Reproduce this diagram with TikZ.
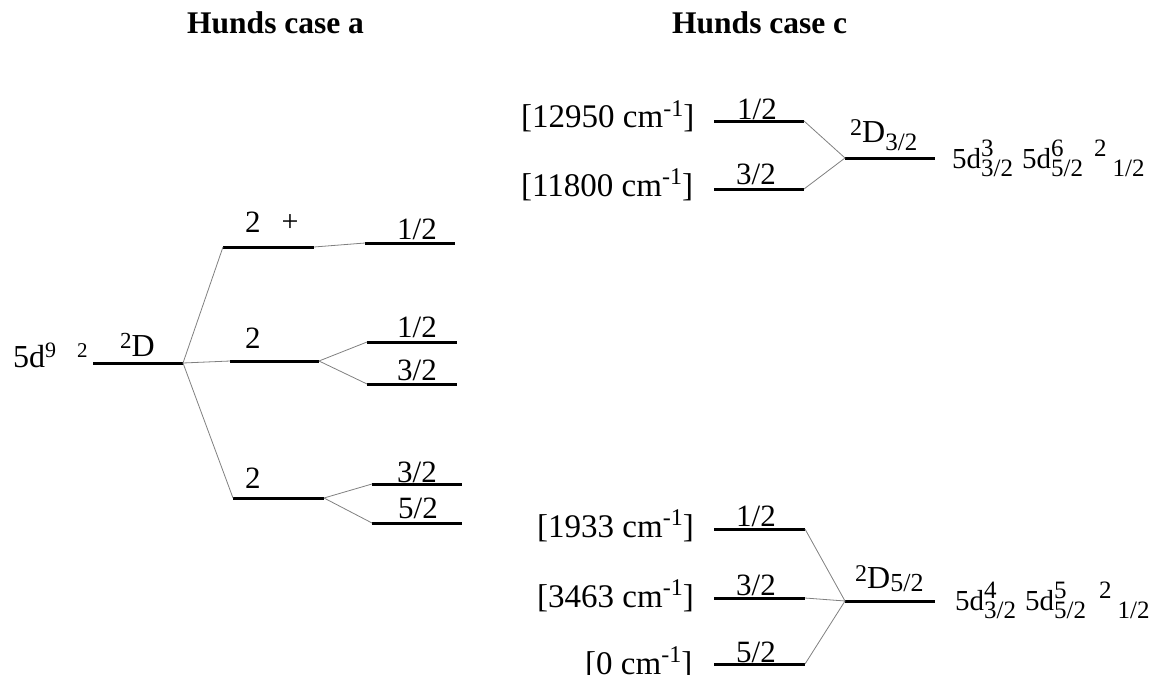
\documentclass[tikz,border=0pt]{standalone}
\usepackage{fontspec}
\setmainfont{Liberation Serif}
\newcommand\fsz[1]{\fontsize{#1}{#1}\selectfont}
% stacked superscript/subscript (sup, sub, raise, lower) in the current font
\newcommand\sbp[4]{\begingroup
 \setbox0\hbox{\raisebox{#3}{#1}}%
 \setbox2\hbox{\raisebox{-#4}{#2}}%
 \ifdim\wd0>\wd2 \rlap{\box2}\box0 \else\rlap{\box0}\box2 \fi\endgroup}
\newcommand\cfgs[4]{{\fsz{25}\sbp{#1}{#2}{#3}{#4}}}
\newcommand\cm{\ cm\raisebox{0.36em}{\fsz{24}-1}}
\tikzset{
  lvl/.style={line width=3pt},
  con/.style={line width=0.8pt, draw=black!50},
  lab/.style={inner sep=0pt, font=\fsz{31}},
  brk/.style={inner sep=0pt, font=\fsz{33}},
  cfg/.style={inner sep=0pt, font=\fsz{29}},
  dst/.style={inner sep=0pt, font=\fsz{32}},
  ttl/.style={inner sep=0pt, font=\fsz{31.5}\bfseries},
}
\begin{document}
\begin{tikzpicture}[x=1pt,y=-1pt]
\useasboundingbox (0,0) rectangle (1155,674);
% titles
\node[ttl, anchor=base west] (ta) at (187,34) {Hunds case a};
\node[ttl, anchor=base west] (tc) at (672,34) {Hunds case c};
% ---------- left: case a ----------
\coordinate (l0a) at (93,363);  \coordinate (l0b) at (183,363);
\coordinate (a1a) at (223,247); \coordinate (a1b) at (314,247);
\coordinate (a2a) at (230,361); \coordinate (a2b) at (319,361);
\coordinate (a3a) at (233,498); \coordinate (a3b) at (324,498);
\coordinate (r1a) at (365,243); \coordinate (r1b) at (455,243);
\coordinate (r2a) at (367,342); \coordinate (r2b) at (457,342);
\coordinate (r3a) at (367,384); \coordinate (r3b) at (457,384);
\coordinate (r4a) at (372,484); \coordinate (r4b) at (462,484);
\coordinate (r5a) at (372,523); \coordinate (r5b) at (462,523);
\foreach \n in {l0,a1,a2,a3,r1,r2,r3,r4,r5} \draw[lvl] (\n a) -- (\n b);
\draw[con] (l0b) -- (a1a);
\draw[con] (l0b) -- (a2a);
\draw[con] (l0b) -- (a3a);
\draw[con] (a1b) -- (r1a);
\draw[con] (a2b) -- (r2a);
\draw[con] (a2b) -- (r3a);
\draw[con] (a3b) -- (r4a);
\draw[con] (a3b) -- (r5a);
\node[dst, anchor=base west] (conf) at (13,367) {5d\raisebox{0.3em}{\fsz{22}9}};
\node[inner sep=0pt, anchor=base west, font=\fsz{21}] (pre) at (77,357) {2};
\node[dst, anchor=base west] (dlab) at (120,356) {\raisebox{0.22em}{\fsz{23}2}D};
\node[lab, anchor=base west] (la1) at (245,232) {2};
\node[inner sep=0pt, font=\fsz{30}] (plus) at (290,223) {+};
\node[lab, anchor=base west] (la2) at (245,348) {2};
\node[lab, anchor=base west] (la3) at (245,488) {2};
\node[lab, anchor=base east] (lr1) at (437,239) {1/2};
\node[lab, anchor=base east] (lr2) at (437,337) {1/2};
\node[lab, anchor=base east] (lr3) at (437,380) {3/2};
\node[lab, anchor=base east] (lr4) at (437,482) {3/2};
\node[lab, anchor=base east] (lr5) at (438,518) {5/2};
% ---------- right: case c ----------
\coordinate (t1a) at (714,121); \coordinate (t1b) at (804,121);
\coordinate (t2a) at (714,189); \coordinate (t2b) at (804,189);
\coordinate (c1a) at (845,158); \coordinate (c1b) at (935,158);
\coordinate (b1a) at (714,529); \coordinate (b1b) at (805,529);
\coordinate (b2a) at (714,598); \coordinate (b2b) at (805,598);
\coordinate (b3a) at (714,664); \coordinate (b3b) at (805,664);
\coordinate (c2a) at (845,601); \coordinate (c2b) at (935,601);
\foreach \n in {t1,t2,c1,b1,b2,b3,c2} \draw[lvl] (\n a) -- (\n b);
\draw[con] (t1b) -- (c1a);
\draw[con] (t2b) -- (c1a);
\draw[con] (b1b) -- (c2a);
\draw[con] (b2b) -- (c2a);
\draw[con] (b3b) -- (c2a);
\node[brk, anchor=base west] (e1) at (521,128) {[12950\cm]};
\node[brk, anchor=base west] (e2) at (521,196) {[11800\cm]};
\node[brk, anchor=base west] (e3) at (537,537) {[1933\cm]};
\node[brk, anchor=base west] (e4) at (537,607) {[3463\cm]};
\node[brk, anchor=base west] (e5) at (585,674) {[0\cm]};
\node[lab, anchor=base east] (j1) at (777,119) {1/2};
\node[lab, anchor=base east] (j2) at (776,184) {3/2};
\node[lab, anchor=base east] (j3) at (776,526) {1/2};
\node[lab, anchor=base east] (j4) at (776,595) {3/2};
\node[lab, anchor=base east] (j5) at (776,662) {5/2};
\node[dst, anchor=base west] (d32) at (850,142) {\raisebox{0.2em}{\fsz{24}2}D{\fsz{25}\sbp{}{3/2}{0pt}{0.33em}}};
\node[dst, anchor=base west] (d52) at (855,588) {\raisebox{0.2em}{\fsz{24}2}D{\fsz{26}\sbp{}{5/2}{0pt}{0.12em}}};
\node[cfg, anchor=base west] (k1) at (952,168) {5d\cfgs{3}{3/2}{0.45em}{0.32em}\hspace{9pt}5d\cfgs{6}{5/2}{0.45em}{0.32em}\hspace{11pt}\cfgs{2}{}{0.45em}{0pt}\hspace{6pt}\cfgs{}{1/2}{0pt}{0.32em}};
\node[cfg, anchor=base west] (k2) at (955,610) {5d\cfgs{4}{3/2}{0.45em}{0.32em}\hspace{9pt}5d\cfgs{5}{5/2}{0.45em}{0.32em}\hspace{13pt}\cfgs{2}{}{0.45em}{0pt}\hspace{6pt}\cfgs{}{1/2}{0pt}{0.32em}};
\end{tikzpicture}
\end{document}
